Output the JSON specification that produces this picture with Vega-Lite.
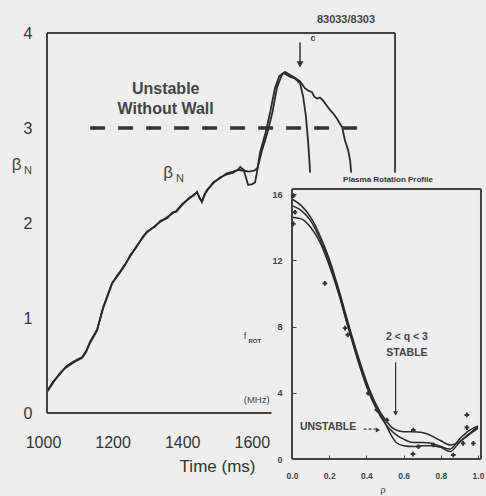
{
  "$schema": "https://vega.github.io/schema/vega-lite/v6.json",
  "width": 434,
  "height": 426,
  "autosize": {"type": "none"},
  "padding": {"left": 47, "top": 33, "right": 5, "bottom": 37},
  "background": "#eeeeee",
  "config": {"view": {"stroke": null}, "font": "Liberation Sans", "text": {"font": "Liberation Sans", "color": "#333"}},
  "datasets": {
    "curves": [
      {"s":"A","t":1000,"beta":0.22},{"s":"A","t":1018,"beta":0.32},{"s":"A","t":1037,"beta":0.42},{"s":"A","t":1055,"beta":0.48},{"s":"A","t":1075,"beta":0.53},{"s":"A","t":1101,"beta":0.58},{"s":"A","t":1112,"beta":0.64},{"s":"A","t":1124,"beta":0.74},{"s":"A","t":1144,"beta":0.87},{"s":"A","t":1161,"beta":1.11},{"s":"A","t":1175,"beta":1.25},{"s":"A","t":1187,"beta":1.37},{"s":"A","t":1200,"beta":1.43},{"s":"A","t":1210,"beta":1.48},{"s":"A","t":1225,"beta":1.56},{"s":"A","t":1239,"beta":1.66},{"s":"A","t":1256,"beta":1.74},{"s":"A","t":1276,"beta":1.86},{"s":"A","t":1287,"beta":1.9},{"s":"A","t":1310,"beta":1.97},{"s":"A","t":1325,"beta":2.01},{"s":"A","t":1345,"beta":2.06},{"s":"A","t":1360,"beta":2.1},{"s":"A","t":1372,"beta":2.13},{"s":"A","t":1391,"beta":2.21},{"s":"A","t":1410,"beta":2.26},{"s":"A","t":1422,"beta":2.3},{"s":"A","t":1431,"beta":2.32},{"s":"A","t":1438,"beta":2.27},{"s":"A","t":1445,"beta":2.22},{"s":"A","t":1452,"beta":2.3},{"s":"A","t":1460,"beta":2.35},{"s":"A","t":1478,"beta":2.42},{"s":"A","t":1497,"beta":2.48},{"s":"A","t":1515,"beta":2.51},{"s":"A","t":1535,"beta":2.53},{"s":"A","t":1548,"beta":2.56},{"s":"A","t":1555,"beta":2.59},{"s":"A","t":1565,"beta":2.56},{"s":"A","t":1578,"beta":2.4},{"s":"A","t":1590,"beta":2.41},{"s":"A","t":1598,"beta":2.43},{"s":"A","t":1603,"beta":2.53},{"s":"A","t":1612,"beta":2.74},{"s":"A","t":1628,"beta":2.95},{"s":"A","t":1642,"beta":3.18},{"s":"A","t":1655,"beta":3.42},{"s":"A","t":1668,"beta":3.55},{"s":"A","t":1680,"beta":3.58},{"s":"A","t":1698,"beta":3.54},{"s":"A","t":1713,"beta":3.52},{"s":"A","t":1727,"beta":3.47},{"s":"A","t":1736,"beta":3.33},{"s":"A","t":1744,"beta":3.12},{"s":"A","t":1750,"beta":2.87},{"s":"A","t":1754,"beta":2.65},{"s":"A","t":1756,"beta":2.53},
      {"s":"B","t":1000,"beta":0.23},{"s":"B","t":1018,"beta":0.33},{"s":"B","t":1037,"beta":0.41},{"s":"B","t":1055,"beta":0.49},{"s":"B","t":1075,"beta":0.54},{"s":"B","t":1101,"beta":0.59},{"s":"B","t":1112,"beta":0.65},{"s":"B","t":1124,"beta":0.75},{"s":"B","t":1144,"beta":0.88},{"s":"B","t":1161,"beta":1.1},{"s":"B","t":1175,"beta":1.24},{"s":"B","t":1187,"beta":1.36},{"s":"B","t":1200,"beta":1.44},{"s":"B","t":1210,"beta":1.49},{"s":"B","t":1225,"beta":1.57},{"s":"B","t":1239,"beta":1.65},{"s":"B","t":1256,"beta":1.75},{"s":"B","t":1276,"beta":1.85},{"s":"B","t":1287,"beta":1.91},{"s":"B","t":1310,"beta":1.96},{"s":"B","t":1325,"beta":2.02},{"s":"B","t":1345,"beta":2.05},{"s":"B","t":1360,"beta":2.11},{"s":"B","t":1372,"beta":2.12},{"s":"B","t":1391,"beta":2.2},{"s":"B","t":1410,"beta":2.27},{"s":"B","t":1422,"beta":2.29},{"s":"B","t":1431,"beta":2.33},{"s":"B","t":1440,"beta":2.25},{"s":"B","t":1447,"beta":2.24},{"s":"B","t":1455,"beta":2.31},{"s":"B","t":1462,"beta":2.35},{"s":"B","t":1478,"beta":2.43},{"s":"B","t":1497,"beta":2.47},{"s":"B","t":1515,"beta":2.52},{"s":"B","t":1535,"beta":2.54},{"s":"B","t":1550,"beta":2.56},{"s":"B","t":1565,"beta":2.55},{"s":"B","t":1580,"beta":2.54},{"s":"B","t":1595,"beta":2.55},{"s":"B","t":1605,"beta":2.58},{"s":"B","t":1616,"beta":2.74},{"s":"B","t":1634,"beta":2.96},{"s":"B","t":1648,"beta":3.17},{"s":"B","t":1661,"beta":3.43},{"s":"B","t":1675,"beta":3.56},{"s":"B","t":1684,"beta":3.59},{"s":"B","t":1698,"beta":3.56},{"s":"B","t":1712,"beta":3.53},{"s":"B","t":1727,"beta":3.49},{"s":"B","t":1741,"beta":3.42},{"s":"B","t":1752,"beta":3.39},{"s":"B","t":1761,"beta":3.38},{"s":"B","t":1768,"beta":3.33},{"s":"B","t":1776,"beta":3.31},{"s":"B","t":1784,"beta":3.32},{"s":"B","t":1793,"beta":3.29},{"s":"B","t":1803,"beta":3.24},{"s":"B","t":1813,"beta":3.19},{"s":"B","t":1823,"beta":3.15},{"s":"B","t":1833,"beta":3.1},{"s":"B","t":1841,"beta":3.05},{"s":"B","t":1848,"beta":3.01},{"s":"B","t":1856,"beta":2.87},{"s":"B","t":1865,"beta":2.77},{"s":"B","t":1871,"beta":2.66},{"s":"B","t":1874,"beta":2.53}
    ],
    "frame": [
      {"t":1000,"t2":2000,"beta":4,"beta2":4},
      {"t":1000,"t2":1000,"beta":0,"beta2":4},
      {"t":2000,"t2":2000,"beta":2.53,"beta2":4},
      {"t":1000,"t2":1645,"beta":0,"beta2":0}
    ],
    "profiles": [
      {"s":"S1","rho":0,"f":15.7},{"s":"S1","rho":0.05,"f":15.3},{"s":"S1","rho":0.1,"f":14.6},{"s":"S1","rho":0.15,"f":13.5},{"s":"S1","rho":0.2,"f":12.1},{"s":"S1","rho":0.25,"f":10.3},{"s":"S1","rho":0.3,"f":8.3},{"s":"S1","rho":0.35,"f":6.4},{"s":"S1","rho":0.4,"f":4.7},{"s":"S1","rho":0.45,"f":3.35},{"s":"S1","rho":0.5,"f":2.4},{"s":"S1","rho":0.55,"f":1.8},{"s":"S1","rho":0.6,"f":1.65},{"s":"S1","rho":0.65,"f":1.65},{"s":"S1","rho":0.7,"f":1.6},{"s":"S1","rho":0.75,"f":1.4},{"s":"S1","rho":0.8,"f":1.1},{"s":"S1","rho":0.85,"f":0.85},{"s":"S1","rho":0.9,"f":1.05},{"s":"S1","rho":0.95,"f":1.5},{"s":"S1","rho":1.0,"f":1.95},
      {"s":"S2","rho":0,"f":15.3},{"s":"S2","rho":0.05,"f":15.0},{"s":"S2","rho":0.1,"f":14.4},{"s":"S2","rho":0.15,"f":13.3},{"s":"S2","rho":0.2,"f":11.9},{"s":"S2","rho":0.25,"f":10.1},{"s":"S2","rho":0.3,"f":8.1},{"s":"S2","rho":0.35,"f":6.2},{"s":"S2","rho":0.4,"f":4.5},{"s":"S2","rho":0.45,"f":3.2},{"s":"S2","rho":0.5,"f":2.2},{"s":"S2","rho":0.53,"f":1.5},{"s":"S2","rho":0.56,"f":1.0},{"s":"S2","rho":0.6,"f":0.8},{"s":"S2","rho":0.65,"f":0.75},{"s":"S2","rho":0.7,"f":0.8},{"s":"S2","rho":0.75,"f":0.8},{"s":"S2","rho":0.8,"f":0.7},{"s":"S2","rho":0.85,"f":0.45},{"s":"S2","rho":0.9,"f":1.0},{"s":"S2","rho":0.95,"f":1.45},{"s":"S2","rho":1.0,"f":1.85},
      {"s":"S3","rho":0,"f":14.6},{"s":"S3","rho":0.05,"f":14.5},{"s":"S3","rho":0.1,"f":14.0},{"s":"S3","rho":0.15,"f":13.1},{"s":"S3","rho":0.2,"f":11.7},{"s":"S3","rho":0.25,"f":10.0},{"s":"S3","rho":0.3,"f":8.0},{"s":"S3","rho":0.35,"f":6.1},{"s":"S3","rho":0.4,"f":4.4},{"s":"S3","rho":0.45,"f":3.1},{"s":"S3","rho":0.5,"f":2.15},{"s":"S3","rho":0.55,"f":1.55},{"s":"S3","rho":0.6,"f":1.2},{"s":"S3","rho":0.65,"f":1.0},{"s":"S3","rho":0.7,"f":1.0},{"s":"S3","rho":0.75,"f":0.95},{"s":"S3","rho":0.8,"f":0.75},{"s":"S3","rho":0.85,"f":0.6},{"s":"S3","rho":0.9,"f":1.2},{"s":"S3","rho":0.95,"f":1.7},{"s":"S3","rho":1.0,"f":2.0}
    ],
    "meas": [
      {"rho":0.007,"f":15.9},{"rho":0.016,"f":14.9},{"rho":0.007,"f":14.2},{"rho":0.177,"f":10.6},{"rho":0.285,"f":7.9},{"rho":0.3,"f":7.5},{"rho":0.41,"f":3.97},{"rho":0.456,"f":2.96},{"rho":0.51,"f":2.35},{"rho":0.652,"f":1.75},{"rho":0.68,"f":0.74},{"rho":0.65,"f":0.3},{"rho":0.76,"f":0.85},{"rho":0.867,"f":0.24},{"rho":0.92,"f":0.94},{"rho":0.94,"f":2.66},{"rho":0.94,"f":1.9},{"rho":0.975,"f":0.94}
    ],
    "iframe": [
      {"rho":0,"rho2":1.016,"f":16.3,"f2":16.3},
      {"rho":0,"rho2":1.016,"f":0,"f2":0},
      {"rho":0,"rho2":0,"f":0,"f2":16.3},
      {"rho":1.016,"rho2":1.016,"f":0,"f2":16.3}
    ]
  },
  "layer": [
    {
      "layer": [
        {
          "data": {"name": "curves"},
          "mark": {"type": "line", "color": "#2a2a2a", "strokeWidth": 1.8},
          "encoding": {
            "x": {"field": "t", "type": "quantitative", "scale": {"domain": [1000, 2247], "nice": false, "zero": false},
                  "axis": {"orient": "bottom", "offset": -46, "values": [1000, 1200, 1400, 1600], "format": "d", "labelFlush": false, "domain": false, "ticks": false, "grid": false, "title": null, "labelPadding": 21, "labelFontSize": 16, "labelColor": "#333", "labelOffset": -4, "labelFont": "Liberation Sans"}},
            "y": {"field": "beta", "type": "quantitative", "scale": {"domain": [-0.4842, 4], "nice": false, "zero": false},
                  "axis": {"orient": "left", "values": [0, 1, 2, 3, 4], "format": "d", "domain": false, "ticks": false, "grid": false, "title": null, "labelPadding": 15, "labelFontSize": 16, "labelColor": "#333", "labelFont": "Liberation Sans"}},
            "detail": {"field": "s", "type": "nominal"}
          }
        },
        {
          "data": {"name": "frame"},
          "mark": {"type": "rule", "color": "#444", "strokeWidth": 2},
          "encoding": {
            "x": {"field": "t", "type": "quantitative"},
            "x2": {"field": "t2"},
            "y": {"field": "beta", "type": "quantitative"},
            "y2": {"field": "beta2"}
          }
        },
        {
          "data": {"values": [{"t": 1124, "t2": 1928, "beta": 3}]},
          "mark": {"type": "rule", "color": "#333", "strokeWidth": 3.5, "strokeDash": [15, 13]},
          "encoding": {
            "x": {"field": "t", "type": "quantitative"},
            "x2": {"field": "t2"},
            "y": {"field": "beta", "type": "quantitative"}
          }
        },
        {
          "data": {"values": [{"t": 1727, "beta": 3.9, "beta2": 3.66}]},
          "mark": {"type": "rule", "color": "#333", "strokeWidth": 1.5},
          "encoding": {
            "x": {"field": "t", "type": "quantitative"},
            "y": {"field": "beta", "type": "quantitative"},
            "y2": {"field": "beta2"}
          }
        },
        {
          "data": {"values": [{"t": 1727, "beta": 3.67}]},
          "mark": {"type": "point", "shape": "triangle-down", "filled": true, "color": "#333", "size": 50, "opacity": 1},
          "encoding": {
            "x": {"field": "t", "type": "quantitative"},
            "y": {"field": "beta", "type": "quantitative"}
          }
        },
        {
          "data": {"values": [{"text": "Unstable", "t": 1341, "beta": 3.407}, {"text": "Without Wall", "t": 1341, "beta": 3.197}]},
          "mark": {"type": "text", "fontSize": 16, "fontWeight": "bold", "color": "#444", "align": "center", "baseline": "middle"},
          "encoding": {
            "x": {"field": "t", "type": "quantitative"},
            "y": {"field": "beta", "type": "quantitative"},
            "text": {"field": "text"}
          }
        },
        {
          "data": {"values": [{"text": "Time (ms)", "t": 1490, "beta": -0.568}]},
          "mark": {"type": "text", "fontSize": 17, "color": "#333", "align": "center", "baseline": "middle"},
          "encoding": {
            "x": {"field": "t", "type": "quantitative"},
            "y": {"field": "beta", "type": "quantitative"},
            "text": {"field": "text"}
          }
        },
        {
          "data": {"values": [{"text": "β", "t": 913, "beta": 2.61}, {"text": "β", "t": 1348, "beta": 2.526}]},
          "mark": {"type": "text", "fontSize": 17, "color": "#444", "align": "center", "baseline": "middle"},
          "encoding": {
            "x": {"field": "t", "type": "quantitative"},
            "y": {"field": "beta", "type": "quantitative"},
            "text": {"field": "text"}
          }
        },
        {
          "data": {"values": [{"text": "N", "t": 945, "beta": 2.55}, {"text": "N", "t": 1382, "beta": 2.465}]},
          "mark": {"type": "text", "fontSize": 11, "color": "#444", "align": "center", "baseline": "middle"},
          "encoding": {
            "x": {"field": "t", "type": "quantitative"},
            "y": {"field": "beta", "type": "quantitative"},
            "text": {"field": "text"}
          }
        },
        {
          "data": {"values": [{"text": "83033/8303", "t": 1859, "beta": 4.137}]},
          "mark": {"type": "text", "fontSize": 11, "fontWeight": "bold", "color": "#444", "align": "center", "baseline": "middle"},
          "encoding": {
            "x": {"field": "t", "type": "quantitative"},
            "y": {"field": "beta", "type": "quantitative"},
            "text": {"field": "text"}
          }
        },
        {
          "data": {"values": [{"text": "c", "t": 1764, "beta": 3.95}]},
          "mark": {"type": "text", "fontSize": 9, "fontWeight": "bold", "color": "#444", "align": "center", "baseline": "middle"},
          "encoding": {
            "x": {"field": "t", "type": "quantitative"},
            "y": {"field": "beta", "type": "quantitative"},
            "text": {"field": "text"}
          }
        }
      ]
    },
    {
      "layer": [
        {
          "data": {"name": "profiles"},
          "mark": {"type": "line", "color": "#2a2a2a", "strokeWidth": 1.5, "interpolate": "monotone"},
          "encoding": {
            "x": {"field": "rho", "type": "quantitative", "scale": {"domain": [-1.3172, 1.0161], "nice": false, "zero": false},
                  "axis": {"orient": "bottom", "offset": 0, "values": [0, 0.2, 0.4, 0.6, 0.8, 1], "format": ".1f", "labelFlush": false, "domain": false, "ticks": true, "tickSize": -4, "tickColor": "#444", "grid": false, "title": null, "labelPadding": 16, "labelFontSize": 8.5, "labelFontWeight": "bold", "labelColor": "#444", "labelFont": "Liberation Sans"}},
            "y": {"field": "f", "type": "quantitative", "scale": {"domain": [0, 25.725], "nice": false, "zero": false},
                  "axis": {"orient": "left", "offset": -245, "values": [0, 4, 8, 12, 16], "domain": false, "ticks": true, "tickSize": -4, "tickColor": "#444", "grid": false, "title": null, "labelPadding": 14, "labelFontSize": 9, "labelFontWeight": "bold", "labelColor": "#444", "labelFont": "Liberation Sans"}},
            "detail": {"field": "s", "type": "nominal"}
          }
        },
        {
          "data": {"name": "iframe"},
          "mark": {"type": "rule", "color": "#444", "strokeWidth": 2},
          "encoding": {
            "x": {"field": "rho", "type": "quantitative"},
            "x2": {"field": "rho2"},
            "y": {"field": "f", "type": "quantitative"},
            "y2": {"field": "f2"}
          }
        },
        {
          "data": {"name": "meas"},
          "mark": {"type": "point", "shape": "cross", "filled": true, "color": "#333", "size": 22, "opacity": 1},
          "encoding": {
            "x": {"field": "rho", "type": "quantitative"},
            "y": {"field": "f", "type": "quantitative"}
          }
        },
        {
          "data": {"values": [{"rho": 0.557, "f": 5.85, "f2": 2.8}]},
          "mark": {"type": "rule", "color": "#333", "strokeWidth": 1.2},
          "encoding": {
            "x": {"field": "rho", "type": "quantitative"},
            "y": {"field": "f", "type": "quantitative"},
            "y2": {"field": "f2"}
          }
        },
        {
          "data": {"values": [{"rho": 0.557, "f": 2.75}]},
          "mark": {"type": "point", "shape": "triangle-down", "filled": true, "color": "#333", "size": 25, "opacity": 1},
          "encoding": {
            "x": {"field": "rho", "type": "quantitative"},
            "y": {"field": "f", "type": "quantitative"}
          }
        },
        {
          "data": {"values": [{"rho": 0.385, "rho2": 0.45, "f": 1.8}]},
          "mark": {"type": "rule", "color": "#333", "strokeWidth": 1.2, "strokeDash": [3, 2]},
          "encoding": {
            "x": {"field": "rho", "type": "quantitative"},
            "x2": {"field": "rho2"},
            "y": {"field": "f", "type": "quantitative"}
          }
        },
        {
          "data": {"values": [{"rho": 0.462, "f": 1.75}]},
          "mark": {"type": "point", "shape": "triangle-right", "filled": true, "color": "#333", "size": 25, "opacity": 1},
          "encoding": {
            "x": {"field": "rho", "type": "quantitative"},
            "y": {"field": "f", "type": "quantitative"}
          }
        },
        {
          "data": {"values": [{"text": "2 < q < 3", "rho": 0.618, "f": 7.37}, {"text": "STABLE", "rho": 0.618, "f": 6.4}, {"text": "UNSTABLE", "rho": 0.194, "f": 1.95}]},
          "mark": {"type": "text", "fontSize": 10.5, "fontWeight": "bold", "color": "#444", "align": "center", "baseline": "middle"},
          "encoding": {
            "x": {"field": "rho", "type": "quantitative"},
            "y": {"field": "f", "type": "quantitative"},
            "text": {"field": "text"}
          }
        },
        {
          "data": {"values": [{"text": "Plasma Rotation Profile", "rho": 0.516, "f": 16.85}]},
          "mark": {"type": "text", "fontSize": 8, "fontWeight": "bold", "color": "#333", "align": "center", "baseline": "middle"},
          "encoding": {
            "x": {"field": "rho", "type": "quantitative"},
            "y": {"field": "f", "type": "quantitative"},
            "text": {"field": "text"}
          }
        },
        {
          "data": {"values": [{"text": "f", "rho": -0.253, "f": 7.43}, {"text": "(MHz)", "rho": -0.19, "f": 3.56}, {"text": "ρ", "rho": 0.489, "f": -1.85}]},
          "mark": {"type": "text", "fontSize": 9.5, "color": "#444", "align": "center", "baseline": "middle"},
          "encoding": {
            "x": {"field": "rho", "type": "quantitative"},
            "y": {"field": "f", "type": "quantitative"},
            "text": {"field": "text"}
          }
        },
        {
          "data": {"values": [{"text": "ROT", "rho": -0.2, "f": 7.12}]},
          "mark": {"type": "text", "fontSize": 6, "fontWeight": "bold", "color": "#444", "align": "center", "baseline": "middle"},
          "encoding": {
            "x": {"field": "rho", "type": "quantitative"},
            "y": {"field": "f", "type": "quantitative"},
            "text": {"field": "text"}
          }
        }
      ]
    }
  ],
  "resolve": {"scale": {"x": "independent", "y": "independent"}, "axis": {"x": "independent", "y": "independent"}}
}
